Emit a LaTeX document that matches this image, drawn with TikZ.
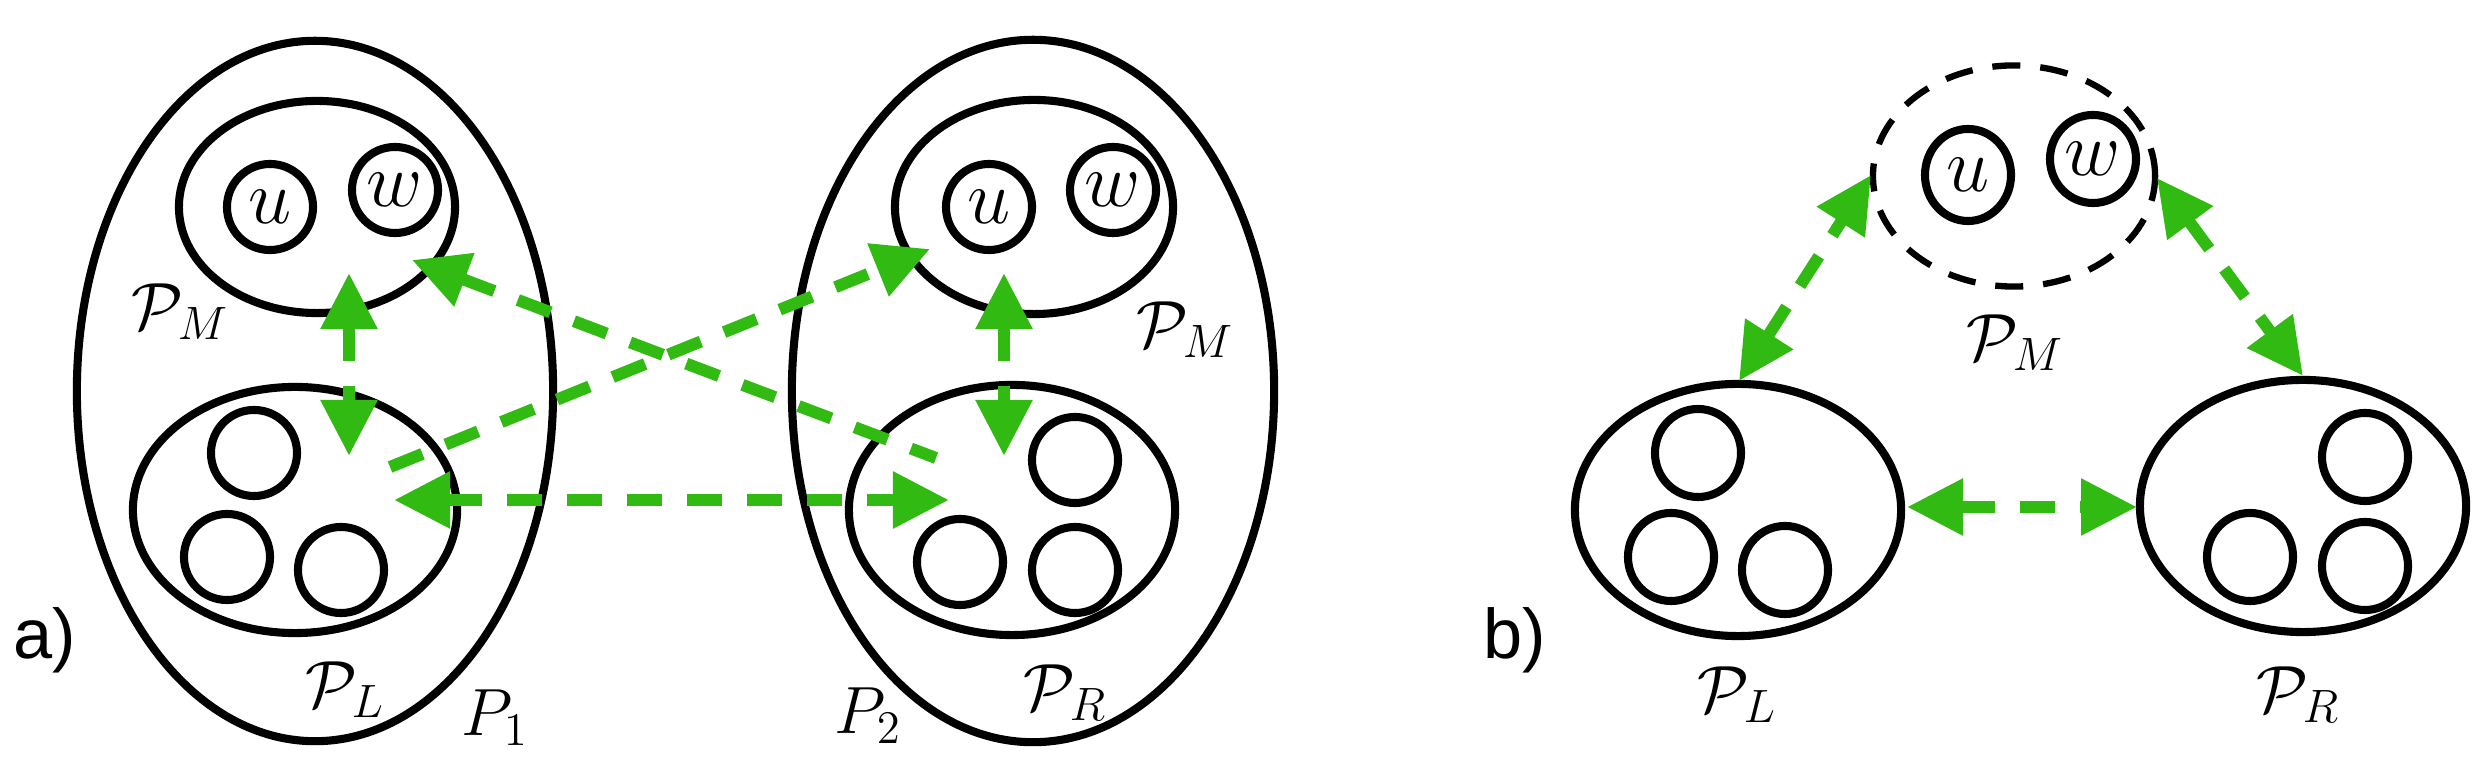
\RequirePackage{fix-cm}
\documentclass[tikz,border=0pt]{standalone}
\usepackage{fontspec}
\newfontfamily\labfont{Liberation Sans}
\usetikzlibrary{shapes.geometric,arrows.meta}
\definecolor{grn}{RGB}{48,186,18}
\begin{document}
\begin{tikzpicture}[x=0.01cm,y=-0.01cm,
  ring/.style={ellipse, draw=black, line width=2.3pt, inner sep=0pt},
  sub/.style={ring, minimum width=0.86cm, minimum height=0.86cm, font=\fontsize{22}{24}\selectfont},
  dring/.style={ellipse, draw=black, line width=1.8pt, inner sep=0pt, dash pattern=on 0.28cm off 0.2cm},
  lbl/.style={inner sep=0pt, font=\fontsize{19}{22}\selectfont},
  tag/.style={inner sep=0pt, font=\labfont\fontsize{20}{24}\selectfont},
  gtip/.tip={Triangle[length=0.56cm,width=0.54cm]},
  garrow/.style={draw=grn, line width=3.4pt, dash pattern=on 0.35cm off 0.25cm},
]
\useasboundingbox (0,0) rectangle (2473,777);
% ---------- panel a ----------
\node[ring, minimum width=4.76cm, minimum height=7.00cm] (P1) at (315,391) {};
\node[ring, minimum width=2.76cm, minimum height=2.12cm] (PMa) at (317,207) {};
\node[sub] (ua) at (270,207) {$u$};
\node[sub] (wa) at (395,190) {$w$};
\node[ring, minimum width=3.24cm, minimum height=2.46cm] (PLa) at (295,510) {};
\node[sub] (La1) at (254,453) {};
\node[sub] (La2) at (227,557) {};
\node[sub] (La3) at (341,570) {};

\node[ring, minimum width=4.82cm, minimum height=7.02cm] (P2) at (1033,391) {};
\node[ring, minimum width=2.78cm, minimum height=2.14cm] (PMb) at (1034,207) {};
\node[sub] (ub) at (989,207) {$u$};
\node[sub] (wb) at (1113,190) {$w$};
\node[ring, minimum width=3.26cm, minimum height=2.50cm] (PRa) at (1012,510) {};
\node[sub] (Ra1) at (1075,460) {};
\node[sub] (Ra2) at (960,562) {};
\node[sub] (Ra3) at (1075,570) {};

\node[lbl] (tPMa) at (180,312) {$\mathcal{P}_M$};
\node[lbl] (tPMb) at (1185,330) {$\mathcal{P}_M$};
\node[lbl] (tPLa) at (345,690) {$\mathcal{P}_L$};
\node[lbl] (tPRa) at (1065,693) {$\mathcal{P}_R$};
\node[lbl] (tP1) at (495,718) {$P_1$};
\node[lbl] (tP2) at (868,716) {$P_2$};
\node[tag] (ta) at (45,640) {a)};

\coordinate (a1s) at (349,273); \coordinate (a1e) at (349,456);
\coordinate (a2s) at (1004,273); \coordinate (a2e) at (1004,456);
\coordinate (a3s) at (394,500); \coordinate (a3e) at (949,500);
\coordinate (a4s) at (412,260); \coordinate (a4e) at (936,458);
\coordinate (a5s) at (390,467); \coordinate (a5e) at (930,249);
\draw[garrow, gtip-gtip] (a1s) -- (a1e);
\draw[garrow, gtip-gtip] (a2s) -- (a2e);
\draw[garrow, gtip-gtip] (a3s) -- (a3e);
\draw[garrow, gtip-] (a4s) -- (a4e);
\draw[garrow, -gtip] (a5s) -- (a5e);

% ---------- panel b ----------
\node[dring, minimum width=2.82cm, minimum height=2.21cm] (PMc) at (2014,176) {};
\node[sub, minimum height=0.92cm] (uc) at (1968,175) {$u$};
\node[sub, minimum height=0.88cm] (wc) at (2093,159) {$w$};
\node[ring, minimum width=3.26cm, minimum height=2.52cm] (PLb) at (1738,510) {};
\node[sub, minimum height=0.88cm] (Lb1) at (1698,453) {};
\node[sub, minimum height=0.88cm] (Lb2) at (1671,557) {};
\node[sub, minimum height=0.88cm] (Lb3) at (1785,570) {};
\node[ring, minimum width=3.26cm, minimum height=2.52cm] (PRb) at (2303,506) {};
\node[sub, minimum height=0.88cm] (Rb1) at (2365,457) {};
\node[sub, minimum height=0.88cm] (Rb2) at (2250,557) {};
\node[sub, minimum height=0.88cm] (Rb3) at (2365,566) {};

\node[lbl] (tPMc) at (2015,343) {$\mathcal{P}_M$};
\node[lbl] (tPLb) at (1737,695) {$\mathcal{P}_L$};
\node[lbl] (tPRb) at (2298,695) {$\mathcal{P}_R$};
\node[tag] (tb) at (1515,640) {b)};

\coordinate (b1s) at (1739,381); \coordinate (b1e) at (1871,175);
\coordinate (b2s) at (2157,178); \coordinate (b2e) at (2303,376);
\coordinate (b3s) at (1907,507); \coordinate (b3e) at (2137,507);
\draw[garrow, gtip-gtip] (b1s) -- (b1e);
\draw[garrow, gtip-gtip] (b2s) -- (b2e);
\draw[garrow, gtip-gtip] (b3s) -- (b3e);
\end{tikzpicture}
\end{document}
